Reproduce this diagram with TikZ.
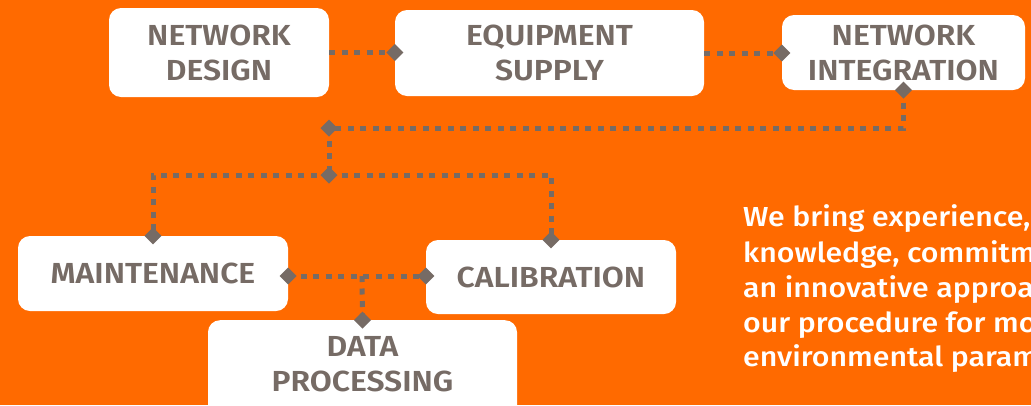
\documentclass[tikz,border=0pt]{standalone}
\usepackage{fontspec}
\setmainfont{Fira Sans}
\newfontfamily\labfont{Fira Sans SemiBold}[FakeStretch=1.1]
\newfontfamily\parfont{Fira Sans Medium}[FakeStretch=1.1]
\definecolor{bg}{HTML}{FF6A00}
\definecolor{ink}{HTML}{766B65}
\tikzset{
  box/.style={fill=white, rounded corners=12pt, inner sep=0pt},
  lab/.style={text=ink, align=center, font=\labfont\fontsize{29}{35}\selectfont, inner sep=0pt},
  para/.style={text=white, font=\parfont\fontsize{27.5}{35}\selectfont, anchor=base west, inner sep=0pt},
  conn/.style={draw=ink, line width=5pt, dash pattern=on 6pt off 6.5pt},
}
\newcommand\dmd[1]{\fill[ink] (#1) +(-8.5pt,0) -- +(0,8.5pt) -- +(8.5pt,0) -- +(0,-8.5pt) -- cycle;}
\begin{document}
\begin{tikzpicture}[x=1pt,y=-1pt]
\useasboundingbox (0,0) rectangle (1031,405);
\fill[bg] (0,0) rectangle (1031,405);
% boxes
\node[box, minimum width=220, minimum height=89] (nd) at (219,52.5) {};
\node[box, minimum width=309, minimum height=86] (es) at (549.5,53) {};
\node[box, minimum width=243, minimum height=75] (ni) at (903.5,52.5) {};
\node[box, minimum width=270, minimum height=75] (mt) at (153,273.5) {};
\node[box, minimum width=250, minimum height=74] (cal) at (551,277) {};
\node[box, minimum width=309, minimum height=100, anchor=north] (dp) at (362.5,320) {};
% labels
\node[lab] (ndt) at (nd) {NETWORK\\DESIGN};
\node[lab] (est) at (es) {EQUIPMENT\\SUPPLY};
\node[lab] (nit) at (ni) {NETWORK\\INTEGRATION};
\node[lab] (mtt) at (mt) {MAINTENANCE};
\node[lab] (calt) at (cal) {CALIBRATION};
\node[lab] (dpt) at (362.5,364) {DATA\\PROCESSING};
% junctions
\coordinate (j1) at (329,128);
\coordinate (j2) at (329,175);
\coordinate (j3) at (362,276);
% connectors
\draw[conn] (nd.east) -- (nd.east -| es.west);
\draw[conn] (es.east) -- (es.east -| ni.west);
\draw[conn] (ni.south) |- (j1);
\draw[conn] (j1) -- (j2);
\draw[conn] (j2) -| (mt.north);
\draw[conn] (j2) -| (cal.north);
\draw[conn] (j3 -| mt.east) -- (j3 -| cal.west);
\draw[conn] (j3) -- (dp.north);
% diamonds
\dmd{nd.east -| es.west}
\dmd{es.east -| ni.west}
\dmd{ni.south}
\dmd{j1}
\dmd{j2}
\dmd{mt.north}
\dmd{cal.north}
\dmd{j3 -| mt.east}
\dmd{j3 -| cal.west}
\dmd{dp.north}
% paragraph
\node[para] (p1) at (743,226) {We bring experience,};
\node[para] (p2) at (743,262) {knowledge, commitm};
\node[para] (p3) at (743,297) {an innovative approa};
\node[para] (p4) at (743,332) {our procedure for mo};
\node[para] (p5) at (743,366) {environmental param};
\end{tikzpicture}
\end{document}
